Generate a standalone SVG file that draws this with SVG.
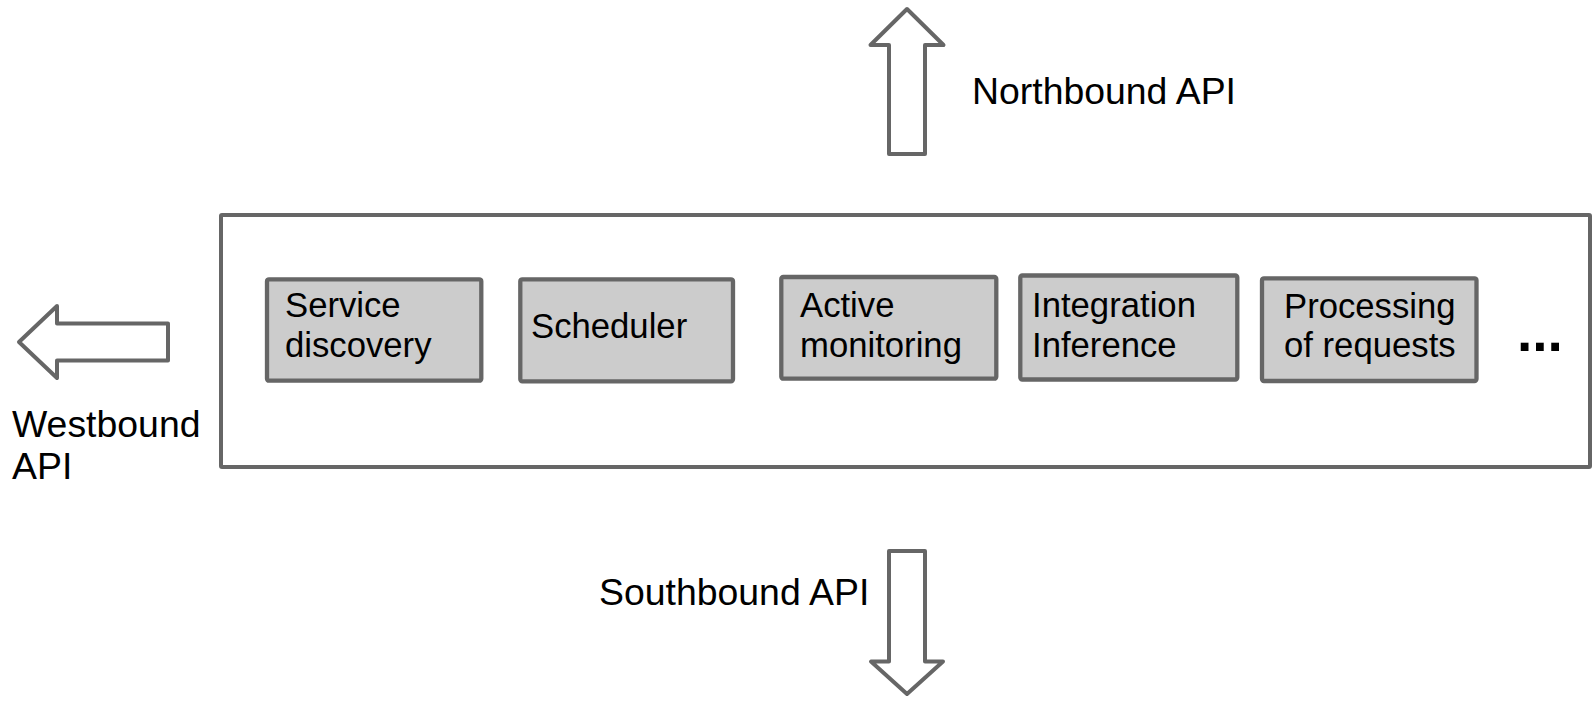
<svg xmlns="http://www.w3.org/2000/svg" width="1593" height="701" viewBox="0 0 1593 701">
  <style>
    .frame { fill: #ffffff; stroke: #666666; stroke-width: 4; }
    .module { fill: #cccccc; stroke: #666666; stroke-width: 4.3; }
    .api-arrow { fill: #ffffff; stroke: #666666; stroke-width: 4; stroke-linejoin: round; }
    .mod-text { font-family: "Liberation Sans", Arial, sans-serif; font-size: 34.7px; fill: #000000; }
    .api-text { font-family: "Liberation Sans", Arial, sans-serif; font-size: 37.4px; fill: #000000; }
    .more { font-family: "Liberation Sans", Arial, sans-serif; font-size: 55px; font-weight: bold; fill: #000000; }
  </style>
  <rect width="1593" height="701" fill="#ffffff"/>

  <!-- controller frame holding the modules -->
  <g id="controller">
    <rect class="frame" x="221" y="215" width="1369" height="252" rx="1"/>
    <text class="more" x="1517" y="350.7">...</text>
  </g>

  <g id="service-discovery">
    <rect class="module" x="267" y="279.3" width="214.3" height="101.4" rx="2"/>
    <text class="mod-text" x="285" y="317.3">Service</text>
    <text class="mod-text" x="285" y="356.7">discovery</text>
  </g>

  <g id="scheduler">
    <rect class="module" x="520.3" y="279.3" width="212.7" height="102" rx="2"/>
    <text class="mod-text" x="531" y="338.3">Scheduler</text>
  </g>

  <g id="active-monitoring">
    <rect class="module" x="781.3" y="277" width="215" height="101.7" rx="2"/>
    <text class="mod-text" x="800" y="316.7">Active</text>
    <text class="mod-text" x="800" y="356.7">monitoring</text>
  </g>

  <g id="integration-inference">
    <rect class="module" x="1020.3" y="275.5" width="217" height="104" rx="2"/>
    <text class="mod-text" x="1032" y="316.7">Integration</text>
    <text class="mod-text" x="1032" y="356.7">Inference</text>
  </g>

  <g id="processing-requests">
    <rect class="module" x="1262" y="278.3" width="214.5" height="102.7" rx="2"/>
    <text class="mod-text" x="1284" y="317.5">Processing</text>
    <text class="mod-text" x="1284" y="357">of requests</text>
  </g>

  <!-- API block arrows -->
  <g id="connectors">
    <path id="northbound-arrow" class="api-arrow" d="M 889 154 L 889 45 L 870.5 45 L 907 9 L 943.5 45 L 925 45 L 925 154 Z"/>
    <path id="southbound-arrow" class="api-arrow" d="M 889 551 L 925 551 L 925 661.5 L 943 661.5 L 907 694 L 871 661.5 L 889 661.5 Z"/>
    <path id="westbound-arrow" class="api-arrow" d="M 168 323.5 L 57 323.5 L 57 306 L 19 342 L 57 378 L 57 360.5 L 168 360.5 Z"/>
  </g>

  <g id="northbound-label">
    <text class="api-text" x="972" y="104">Northbound API</text>
  </g>
  <g id="westbound-label">
    <text class="api-text" x="12" y="437.3">Westbound</text>
    <text class="api-text" x="12" y="479.3">API</text>
  </g>
  <g id="southbound-label">
    <text class="api-text" x="599" y="605">Southbound API</text>
  </g>
</svg>
